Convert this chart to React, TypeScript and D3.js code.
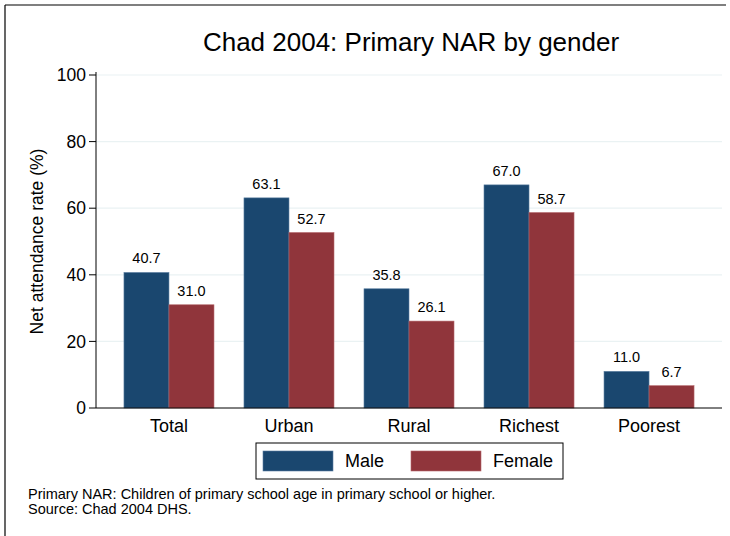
import React from "react";
import * as d3 from "d3";

const categories = ["Total", "Urban", "Rural", "Richest", "Poorest"];
const seriesNames = ["Male", "Female"];
const maleValues = [40.7, 63.1, 35.8, 67.0, 11.0];
const femaleValues = [31.0, 52.7, 26.1, 58.7, 6.7];
const yTicks = [0, 20, 40, 60, 80, 100];
const colors = ["#1a476f", "#90353b"];
const strokeColors = ["#5a7ea0", "#b5676c"];
const title = "Chad 2004: Primary NAR by gender";
const yLabel = "Net attendance rate (%)";
const notes = [
  "Primary NAR: Children of primary school age in primary school or higher.",
  "Source: Chad 2004 DHS.",
];

const W = 730;
const H = 536;
const FONT = "'Liberation Sans', Arial, Helvetica, sans-serif";

export default function App() {
  const left = 96;
  const right = 722;
  const top = 75;
  const bottom = 408;

  const x = d3
    .scaleBand<string>()
    .domain(categories)
    .range([left, right])
    .paddingInner(0.25)
    .paddingOuter(0.233);
  const x1 = d3
    .scaleBand<string>()
    .domain(seriesNames)
    .range([0, x.bandwidth()]);
  const y = d3.scaleLinear().domain([0, 100]).range([bottom, top]);

  const series = [maleValues, femaleValues];

  return (
    <svg
      width={W}
      height={H}
      style={{ position: "absolute", left: 0, top: 0, background: "#fff" }}
      fontFamily={FONT}
    >
      <rect x={0} y={0} width={W} height={H} fill="#fff" />
      {/* frame */}
      <line x1={5} x2={726} y1={5} y2={5} stroke="#000" strokeWidth={1.2} />
      <line x1={5} x2={5} y1={5} y2={H} stroke="#000" strokeWidth={1.2} />

      <text x={(left + right) / 2 + 2} y={51} textAnchor="middle" fontSize={26} fill="#000">
        {title}
      </text>

      {/* grid */}
      {yTicks.filter((t) => t > 0).map((t) => (
        <line key={t} x1={left} x2={right} y1={y(t)} y2={y(t)} stroke="#eaf2f3" strokeWidth={1.2} />
      ))}

      {/* bars */}
      {categories.map((c, i) => (
        <g key={c}>
          {seriesNames.map((s, j) => {
            const v = series[j][i];
            const bx = (x(c) as number) + (x1(s) as number);
            return (
              <g key={s}>
                <rect
                  x={bx}
                  y={y(v)}
                  width={x1.bandwidth()}
                  height={y(0) - y(v)}
                  fill={colors[j]}
                  stroke={strokeColors[j]}
                  strokeWidth={0.6}
                />
                <text
                  x={bx + x1.bandwidth() / 2}
                  y={y(v) - 9}
                  textAnchor="middle"
                  fontSize={14.5}
                  fill="#000"
                >
                  {v.toFixed(1)}
                </text>
              </g>
            );
          })}
        </g>
      ))}

      {/* y axis */}
      <line x1={left} x2={left} y1={top - 3} y2={bottom} stroke="#000" strokeWidth={1} />
      {yTicks.map((t) => (
        <g key={t}>
          <line x1={left - 7} x2={left} y1={y(t)} y2={y(t)} stroke="#000" strokeWidth={1} />
          <text x={left - 10} y={y(t)} dy="0.35em" textAnchor="end" fontSize={17.5} fill="#000">
            {t}
          </text>
        </g>
      ))}
      <text
        transform={`translate(43,${(top + bottom) / 2}) rotate(-90)`}
        textAnchor="middle"
        fontSize={17.5}
        fill="#000"
      >
        {yLabel}
      </text>

      {/* x axis */}
      <line x1={left} x2={right} y1={bottom} y2={bottom} stroke="#000" strokeWidth={1} />
      {categories.map((c) => (
        <text
          key={c}
          x={(x(c) as number) + x.bandwidth() / 2}
          y={432}
          textAnchor="middle"
          fontSize={18}
          fill="#000"
        >
          {c}
        </text>
      ))}

      {/* legend */}
      <rect x={256} y={443} width={307} height={36} fill="#fff" stroke="#000" strokeWidth={1} />
      {seriesNames.map((s, j) => {
        const sx = j === 0 ? 263 : 411;
        return (
          <g key={s}>
            <rect x={sx} y={451} width={70} height={20} fill={colors[j]} stroke={strokeColors[j]} strokeWidth={0.6} />
            <text x={sx + 82} y={461} dy="0.35em" fontSize={18} fill="#000">
              {s}
            </text>
          </g>
        );
      })}

      {/* notes */}
      {notes.map((n, i) => (
        <text key={i} x={28} y={499 + i * 15} fontSize={14.5} fill="#000">
          {n}
        </text>
      ))}
    </svg>
  );
}
